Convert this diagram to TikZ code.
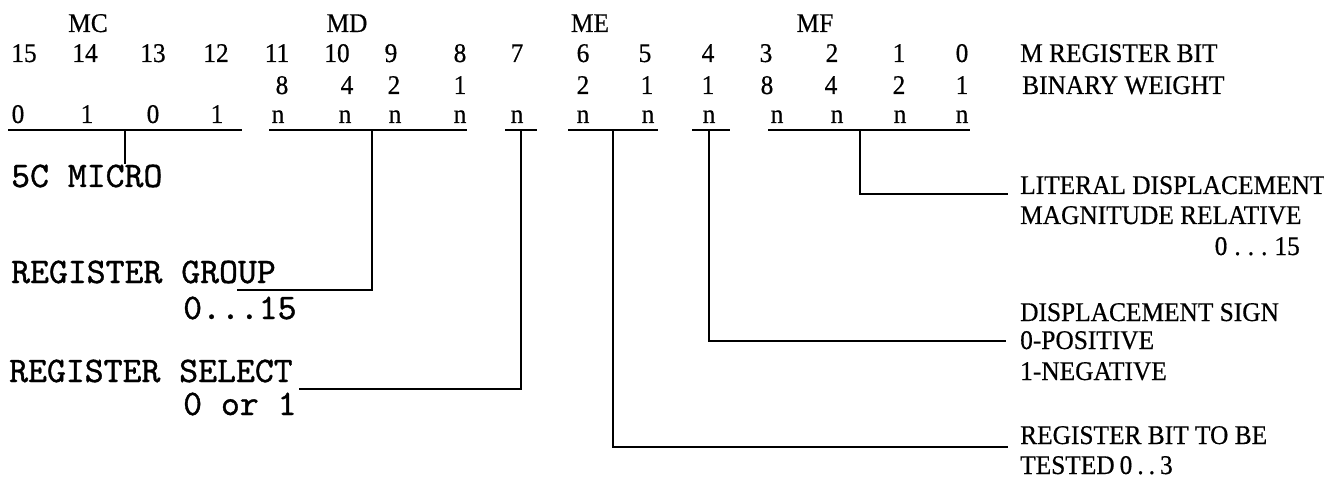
\documentclass[tikz,border=0pt]{standalone}
\usepackage{fontspec}
\setmainfont{Liberation Serif}[FakeStretch=0.94,FakeBold=0.5]
\newfontfamily\typefont{lmmono10-regular.otf}[FakeBold=1]
\begin{document}
\begin{tikzpicture}[x=1pt,y=-1pt,
  cell/.style={inner sep=0pt,anchor=base,font=\fontsize{27}{30}\selectfont},
  note/.style={inner sep=0pt,anchor=base west,font=\fontsize{27}{30}\selectfont},
  tnote/.style={inner sep=0pt,anchor=base west,font=\typefont\fontsize{36}{40}\selectfont},
  wire/.style={line width=2pt,black}]
\useasboundingbox (0,0) rectangle (1324,478);

% field names
\node[cell] (fMC) at (88,32) {MC};
\node[cell] (fMD) at (347,32) {MD};
\node[cell] (fME) at (590,32) {ME};
\node[cell] (fMF) at (815,32) {MF};

% bit numbers
\foreach \b/\x in {15/24,14/85,13/153,12/216,11/277,10/337,9/391,8/460,
                   7/517,6/583,5/645,4/708,3/766,2/832,1/899,0/962}
  \node[cell] (bit\b) at (\x,62) {\b};
\node[note] (hdrBit) at (1020,62) {M REGISTER BIT};

% binary weights
\foreach \b/\x/\w in {11/282/8,10/347/4,9/394/2,8/460/1,
                      6/583/2,5/647/1,4/708/1,
                      3/767/8,2/831/4,1/899/2,0/962/1}
  \node[cell] (wt\b) at (\x,94) {\w};
\node[note] (hdrWt) at (1022,94) {BINARY WEIGHT};

% field contents
\foreach \b/\x/\v in {15/18/0,14/87/1,13/153/0,12/217/1,
                      11/278/n,10/345/n,9/395/n,8/460/n,7/517/n,
                      6/583/n,5/648/n,4/709/n,3/777/n,2/837/n,1/900/n,0/962/n}
  \node[cell] (val\b) at (\x,123) {\v};

% underlines of the fields
\draw[wire] (8,130) -- (242,130);
\draw[wire] (269,130) -- (467,130);
\draw[wire] (505,130) -- (537,130);
\draw[wire] (568,130) -- (658,130);
\draw[wire] (692,130) -- (730,130);
\draw[wire] (768,130) -- (970,130);

% taps on the underlines
\coordinate (tapMC) at (125,130);
\coordinate (tapMD) at (372,130);
\coordinate (tapB7) at (521,130);
\coordinate (tapME) at (613,130);
\coordinate (tapB4) at (709,130);
\coordinate (tapMF) at (860,130);

% left-hand descriptions
\node[tnote] (micro) at (11,187) {5C MICRO};
\node[tnote] (grp)   at (11,283) {REGISTER GROUP};
\node[tnote] (grpR)  at (183,319) {0...15};
\node[tnote] (sel)   at (9,382)  {REGISTER SELECT};
\node[tnote] (selR)  at (183,415) {0 or 1};

% right-hand descriptions
\node[note] (lit1) at (1020,194) {LITERAL DISPLACEMENT};
\node[note] (lit2) at (1020,224) {MAGNITUDE RELATIVE};
\node[inner sep=0pt,anchor=base east,font=\fontsize{27}{30}\selectfont] (lit3)
  at (1300,255) {0\kern7pt.\kern7pt.\kern7pt.\kern7pt15};
\node[note] (sgn1) at (1020,321) {DISPLACEMENT SIGN};
\node[note] (sgn2) at (1020,349) {0-POSITIVE};
\node[note] (sgn3) at (1020,380) {1-NEGATIVE};
\node[note] (tst1) at (1020,444) {REGISTER BIT TO BE};
\node[note] (tst2) at (1020,474) {TESTED\kern5pt0\kern5pt.\kern5pt.\kern5pt3};

% leader ends
\coordinate (grpEnd) at (237,290);
\coordinate (selEnd) at (299,389);
\coordinate (litEnd) at (1008,194);
\coordinate (sgnEnd) at (1006,341);
\coordinate (tstEnd) at (1008,447);

% leaders
\draw[wire] (tapMC) -- (tapMC |- micro.north);
\draw[wire] (tapMD) |- (grpEnd);
\draw[wire] (tapB7) |- (selEnd);
\draw[wire] (tapME) |- (tstEnd);
\draw[wire] (tapB4) |- (sgnEnd);
\draw[wire] (tapMF) |- (litEnd);
\end{tikzpicture}
\end{document}
